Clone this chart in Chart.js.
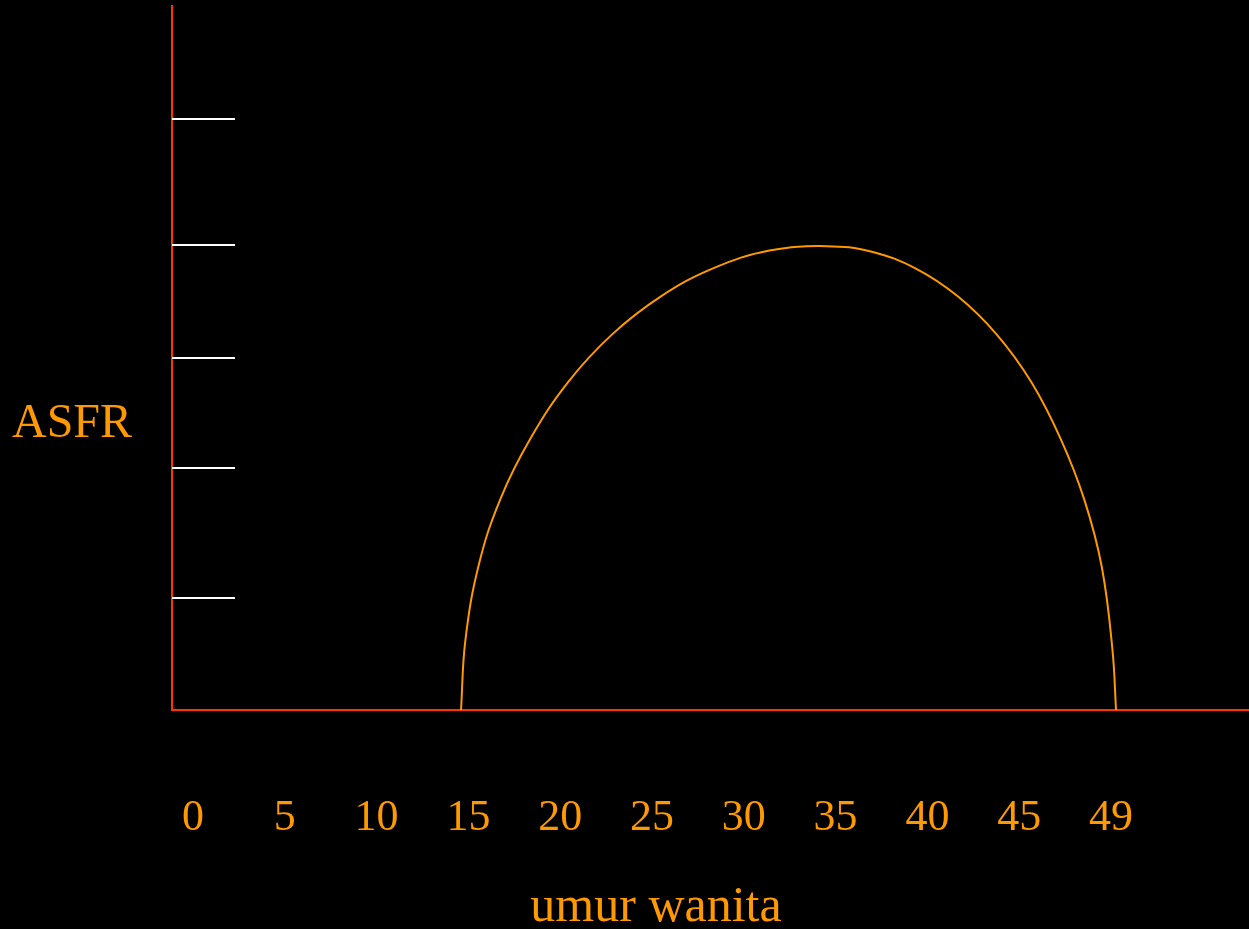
<!DOCTYPE html>
<html>
<head>
<meta charset="utf-8">
<script src="https://cdn.jsdelivr.net/npm/chart.js@4/dist/chart.umd.min.js"></script>
<style>
  html, body { margin: 0; padding: 0; background: #000; }
  #wrap { width: 1249px; height: 929px; position: relative; }
</style>
</head>
<body>
<div id="wrap"><canvas id="asfrChart"></canvas></div>
<script>
// tick labels under the axis (umur wanita)
const ageLabels = ['0', '5', '10', '15', '20', '25', '30', '35', '40', '45', '49'];

// curve: age vs ASFR (arbitrary units, per 1000)
const ages = [15, 15.23, 15.93, 17.07, 18.62, 20.56, 22.83, 25.36, 28.11, 31.01, 33.97,
              36.32, 38.61, 40.8, 42.81, 44.6, 46.13, 47.36, 48.26, 48.81, 49];
const asfr = [0, 30, 62.2, 90.5, 116, 139.8, 160, 176.2, 188.3, 195.8, 197.7,
              195.3, 188.1, 176.2, 160, 139.8, 115.5, 89.5, 61, 26, 0];

// short white marks on the y axis
const yMarks = [48, 103, 150, 198, 252];

const AXIS_RED = '#FF3300';
const ORANGE = '#FF9900';
const FONT = '"Liberation Serif", "Times New Roman", serif';

const textAndMarks = {
    id: 'textAndMarks',
    afterDatasetsDraw(chart) {
        const ctx = chart.ctx;
        const y = chart.scales.y;
        const left = chart.chartArea.left;
        ctx.save();
        ctx.strokeStyle = '#FFFFFF';
        ctx.lineWidth = 2;
        yMarks.forEach(v => {
            const py = Math.round(y.getPixelForValue(v));
            ctx.beginPath();
            ctx.moveTo(left, py);
            ctx.lineTo(left + 63, py);
            ctx.stroke();
        });
        // titles, drawn flat like on the slide
        ctx.fillStyle = ORANGE;
        ctx.font = '48px ' + FONT;
        ctx.textBaseline = 'alphabetic';
        ctx.textAlign = 'left';
        ctx.fillText('ASFR', 12, 437);
        ctx.font = '50px ' + FONT;
        ctx.textAlign = 'center';
        ctx.fillText('umur wanita', 656, 921);
        ctx.restore();
    }
};

const points = ages.map((a, i) => ({ x: a, y: asfr[i] }));

new Chart(document.getElementById('asfrChart').getContext('2d'), {
    type: 'line',
    data: {
        datasets: [{
            label: 'ASFR',
            data: points,
            borderColor: ORANGE,
            borderWidth: 2,
            pointRadius: 0,
            fill: false,
            tension: 0.4
        }]
    },
    options: {
        responsive: true,
        maintainAspectRatio: false,
        animation: false,
        layout: { padding: { left: 172, top: 6, right: 0, bottom: 2 } },
        plugins: {
            legend: { display: false },
            tooltip: { enabled: false }
        },
        scales: {
            x: {
                type: 'linear',
                min: 0,
                max: 55.9,
                position: 'bottom',
                grid: { display: false, drawTicks: false },
                border: { display: true, color: AXIS_RED, width: 2 },
                ticks: { display: false }
            },
            xLab: {
                type: 'linear',
                min: -0.229,
                max: 11.503,
                position: 'bottom',
                grid: { display: false, drawTicks: false },
                border: { display: false },
                afterBuildTicks: scale => {
                    scale.ticks = ageLabels.map((_, i) => ({ value: i }));
                },
                ticks: {
                    autoSkip: false,
                    maxRotation: 0,
                    padding: 82,
                    color: ORANGE,
                    font: { family: FONT, size: 44 },
                    callback: v => ageLabels[v]
                }
            },
            y: {
                min: 0,
                max: 300,
                grid: { display: false, drawTicks: false },
                border: { display: true, color: AXIS_RED, width: 2 },
                ticks: { display: false }
            }
        }
    },
    plugins: [textAndMarks]
});
</script>
</body>
</html>
